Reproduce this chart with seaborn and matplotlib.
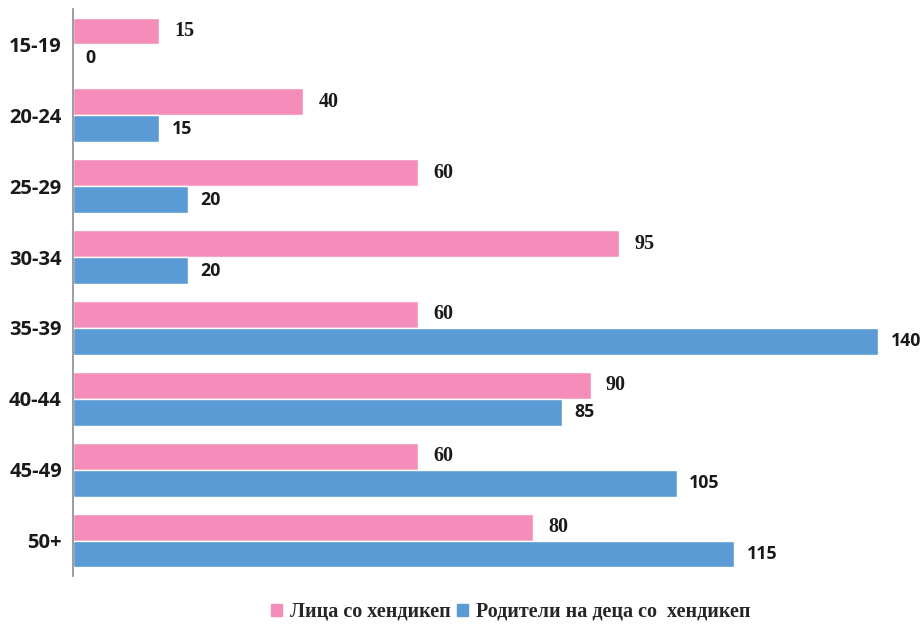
import pandas as pd
import matplotlib.pyplot as plt
import seaborn as sns

# age groups and values
age_groups = ["15-19", "20-24", "25-29", "30-34", "35-39", "40-44", "45-49", "50+"]
persons = [15, 40, 60, 95, 60, 90, 60, 80]
parents = [0, 15, 20, 20, 140, 85, 105, 115]
series_names = ["Лица со хендикеп", "Родители на деца со  хендикеп"]
colors = ["#F48DBA", "#5B9BD5"]

data = pd.DataFrame({
    "age": age_groups * 2,
    "value": persons + parents,
    "series": [series_names[0]] * len(age_groups) + [series_names[1]] * len(age_groups),
})

sns.set_style("white")

fig = plt.figure(figsize=(9.24, 6.26), dpi=100)
ax = fig.add_axes([73 / 924, 1 - 576 / 626, 851 / 924, 567 / 626])

sns.barplot(data=data, y="age", x="value", hue="series", orient="h",
            palette=colors, width=0.76, saturation=1, ax=ax, legend=False)

ax.set_xlim(0, 148)
ax.set_ylim(len(age_groups) - 0.5, -0.5)
ax.set_xlabel("")
ax.set_ylabel("")
ax.set_xticks([])

for side in ["top", "right", "bottom"]:
    ax.spines[side].set_visible(False)
ax.spines["left"].set_color("#8c8c8c")
ax.spines["left"].set_linewidth(1.2)

ax.tick_params(axis="y", length=0, pad=8)
for lbl in ax.get_yticklabels():
    lbl.set_fontfamily("Open Sans")
    lbl.set_fontweight("bold")
    lbl.set_fontsize(14.5)
    lbl.set_color("#1a1a1a")

# value labels: pink ones in serif, blue ones in sans
ax.bar_label(ax.containers[0], padding=11, fontsize=14.5, fontweight="bold",
             fontfamily="Liberation Serif", color="#1a1a1a")
ax.bar_label(ax.containers[1], padding=9, fontsize=12.8, fontweight="bold",
             fontfamily="Open Sans", color="#1a1a1a", clip_on=False)

handles = [plt.Rectangle((0, 0), 1, 1, color=c) for c in colors]
fig.legend(handles, series_names, loc="center", bbox_to_anchor=(0.553, 1 - 612 / 626),
           ncol=2, frameon=False, handlelength=0.55, handleheight=0.55,
           handletextpad=0.4, columnspacing=0.3,
           prop={"family": "Liberation Serif", "weight": "bold", "size": 14.5})

plt.savefig("out.png", dpi=100)
